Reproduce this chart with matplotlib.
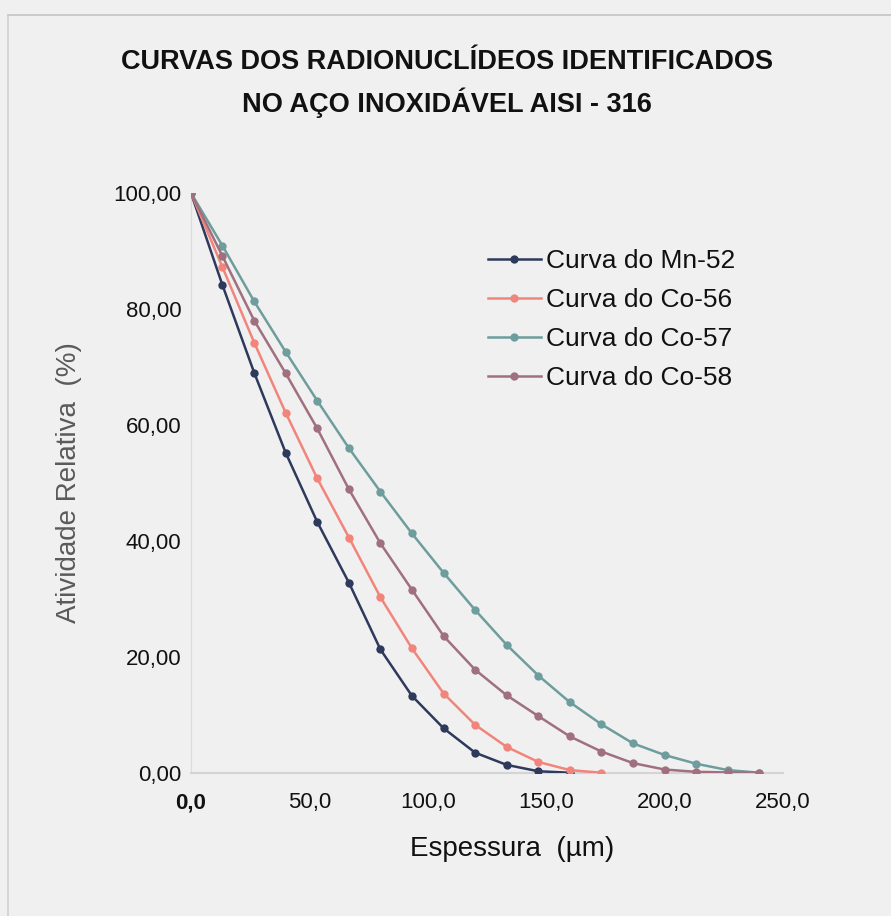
import matplotlib
matplotlib.use("Agg")
import matplotlib.pyplot as plt
from matplotlib.lines import Line2D

# Thickness (um) at each measured layer
thickness = [0.0, 13.3, 26.7, 40.0, 53.3, 66.7, 80.0, 93.3, 106.7, 120.0,
             133.3, 146.7, 160.0, 173.3, 186.7, 200.0, 213.3, 226.7, 240.0]

# Relative activity (%) for each radionuclide
mn52 = [100.0, 84.1, 69.0, 55.2, 43.3, 32.8, 21.3, 13.3, 7.7, 3.5, 1.4, 0.3, 0.05]
co56 = [100.0, 87.2, 74.2, 62.1, 50.8, 40.6, 30.3, 21.5, 13.7, 8.3, 4.5, 1.9, 0.5, 0.05]
co57 = [100.0, 90.9, 81.3, 72.6, 64.2, 56.0, 48.5, 41.3, 34.5, 28.1, 22.1, 16.8,
        12.2, 8.4, 5.1, 3.1, 1.6, 0.5, 0.05]
co58 = [100.0, 89.1, 78.0, 68.9, 59.4, 48.9, 39.6, 31.6, 23.6, 17.8, 13.4, 9.8,
        6.3, 3.7, 1.7, 0.6, 0.2, 0.1, 0.05]

labels = ["Curva do Mn-52", "Curva do Co-56", "Curva do Co-57", "Curva do Co-58"]
colors = ["#2e3a5c", "#f2857b", "#6d9d9c", "#a0707f"]

x_ticks = [0, 50, 100, 150, 200, 250]
x_ticklabels = ["0,0", "50,0", "100,0", "150,0", "200,0", "250,0"]
y_ticks = [0, 20, 40, 60, 80, 100]
y_ticklabels = ["0,00", "20,00", "40,00", "60,00", "80,00", "100,00"]

plt.rcParams["font.family"] = ["Liberation Sans", "DejaVu Sans"]

W, H = 891, 916
x0, x1, y0, y1 = 191, 783, 773, 193   # axes box in pixels
bg = "#f0f0f0"
fig = plt.figure(figsize=(W / 100, H / 100), dpi=100, facecolor=bg)
ax = fig.add_axes([x0 / W, 1 - y0 / H, (x1 - x0) / W, (y0 - y1) / H])
ax.set_facecolor(bg)

series = [mn52, co56, co57, co58]
for vals, lab, col in zip(series, labels, colors):
    ax.plot(thickness[:len(vals)], vals, color=col, lw=1.8, marker="o",
            markersize=6, markeredgewidth=0, label=lab, zorder=3)

ax.set_xlim(0, 250)
ax.set_ylim(0, 100)
ax.set_xticks(x_ticks)
ax.set_xticklabels(x_ticklabels, fontsize=16)
ax.get_xticklabels()[0].set_fontweight("bold")
ax.set_yticks(y_ticks)
ax.set_yticklabels(y_ticklabels, fontsize=16)
ax.tick_params(axis="x", length=0, pad=14, colors="#111111")
ax.tick_params(axis="y", length=0, pad=7, colors="#111111")

for side in ["top", "right"]:
    ax.spines[side].set_visible(False)
ax.spines["left"].set_color("#dcdcdc")
ax.spines["bottom"].set_color("#d4d4d4")
ax.spines["bottom"].set_linewidth(1.5)

aw, ah = x1 - x0, y0 - y1
ax.set_xlabel("Espessura  (µm)", fontsize=20, color="#111111")
ax.xaxis.set_label_coords((512 - x0) / aw, -(836 - y0) / ah)
ax.set_ylabel("Atividade Relativa  (%)", fontsize=20, color="#5a5a5a")
ax.yaxis.set_label_coords(-(x0 - 82) / aw, (y0 - 483) / ah)

fig.text(447 / W, 1 - 62 / H, "CURVAS DOS RADIONUCLÍDEOS IDENTIFICADOS",
         ha="center", va="center", fontsize=19.5, fontweight="bold", color="#111111")
fig.text(447 / W, 1 - 103 / H, "NO AÇO INOXIDÁVEL AISI - 316",
         ha="center", va="center", fontsize=19.5, fontweight="bold", color="#111111")

leg = ax.legend(loc="upper left", bbox_to_anchor=((488 - x0) / aw, (y0 - 249) / ah),
                frameon=False, fontsize=19, handlelength=2.0, handletextpad=0.2,
                labelspacing=0.57, borderaxespad=0, borderpad=0)
for t in leg.get_texts():
    t.set_color("#111111")

# faint frame of the chart area
fig.add_artist(Line2D([8 / W, 1.0], [1 - 15 / H, 1 - 15 / H], color="#c4c4c4",
                      lw=1.2, transform=fig.transFigure))
fig.add_artist(Line2D([8 / W, 8 / W], [0.0, 1 - 15 / H], color="#d0d0d0",
                      lw=1.2, transform=fig.transFigure))

fig.savefig("out.png", dpi=100, facecolor=bg)
